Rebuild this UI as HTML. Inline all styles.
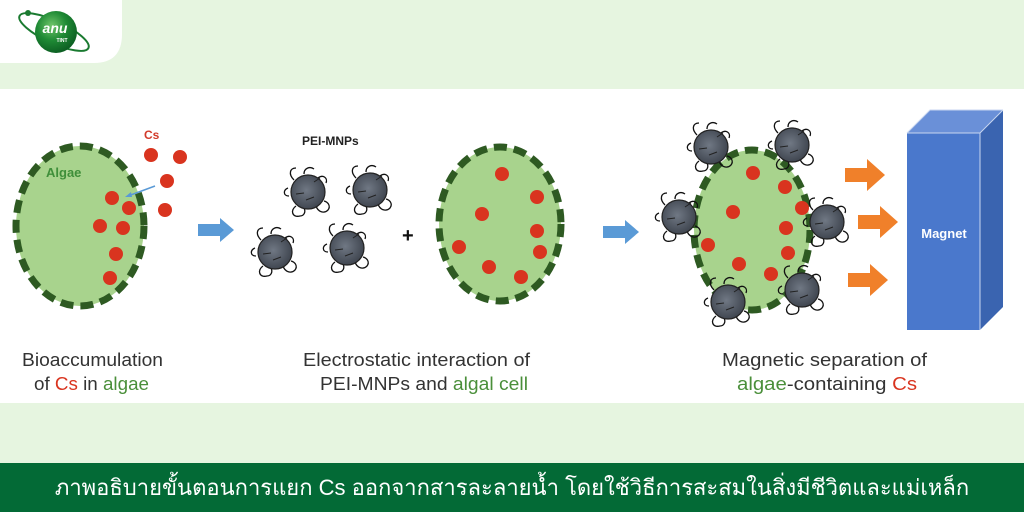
<!DOCTYPE html>
<html><head><meta charset="utf-8"><style>
html,body{margin:0;padding:0;width:1024px;height:512px;overflow:hidden;background:#e6f5e0}
svg{display:block}
</style></head><body>
<svg width="1024" height="512" viewBox="0 0 1024 512" xmlns="http://www.w3.org/2000/svg">
<defs>
<radialGradient id="pg" cx="0.45" cy="0.45" r="0.6"><stop offset="0" stop-color="#707884"/><stop offset="1" stop-color="#3c424c"/></radialGradient>
<radialGradient id="lg" cx="0.4" cy="0.35" r="0.7"><stop offset="0" stop-color="#6fc56a"/><stop offset="0.5" stop-color="#1f8a35"/><stop offset="1" stop-color="#0a5a20"/></radialGradient>
<g id="p">
<path d="M-14,-12 c-6,-6 -4,-12 2,-12 M-4,-18 c0,-6 6,-8 10,-5 M10,-14 c5,-4 10,0 8,5 M-19,4 c-6,0 -6,-6 -1,-8" fill="none" stroke="#111" stroke-width="1.3"/>
<path d="M-12,14 c-6,4 -4,12 4,10 c4,0 6,-4 4,-8 M8,14 c2,6 8,8 12,4 c3,-4 0,-8 -4,-9" fill="none" stroke="#111" stroke-width="1.3"/>
<circle r="17" fill="url(#pg)" stroke="#222" stroke-width="1.2"/>
<path d="M-12,2 l8,-1 M6,-10 l6,-4 M-2,8 l8,-3" stroke="#222" stroke-width="1"/>
</g>
<g id="oa"><rect x="0" y="-7" width="22" height="14" fill="#f0802a"/><path d="M22,-16 L40,0 L22,16Z" fill="#f0802a"/></g>
<g id="ba"><rect x="0" y="-6" width="22" height="12" fill="#5a9ad6"/><path d="M22,-12 L36,0 L22,12Z" fill="#5a9ad6"/></g>
</defs>
<path d="M0,0 H122 V34 Q122,63 94,63 H0Z" fill="#fff"/>
<ellipse cx="54" cy="32" rx="38" ry="11" transform="rotate(25 54 32)" fill="none" stroke="#1a7a30" stroke-width="2"/>
<circle cx="28" cy="13" r="3" fill="#1a7a30"/>
<circle cx="56" cy="32" r="21" fill="url(#lg)"/>
<text x="55" y="33" font-family="Liberation Sans, sans-serif" font-size="14" font-weight="bold" font-style="italic" fill="#fff" text-anchor="middle">anu</text>
<text x="62" y="42" font-family="Liberation Sans, sans-serif" font-size="5" font-weight="bold" fill="#fff" text-anchor="middle">TINT</text>
<rect x="0" y="89" width="1024" height="314" fill="#fff"/>
<ellipse cx="80" cy="226" rx="64" ry="80" fill="#a8d38d" stroke="#2e5a22" stroke-width="7" stroke-dasharray="13 7"/>
<text x="46" y="177" font-family="Liberation Sans, sans-serif" font-size="13" font-weight="bold" fill="#3f8f3a">Algae</text>
<text x="144" y="139" font-family="Liberation Sans, sans-serif" font-size="12" font-weight="bold" fill="#d23a2a">Cs</text>
<g fill="#d9341f">
<circle cx="151" cy="155" r="7"/><circle cx="180" cy="157" r="7"/><circle cx="167" cy="181" r="7"/><circle cx="165" cy="210" r="7"/>
<circle cx="112" cy="198" r="7"/><circle cx="129" cy="208" r="7"/><circle cx="100" cy="226" r="7"/><circle cx="123" cy="228" r="7"/><circle cx="116" cy="254" r="7"/><circle cx="110" cy="278" r="7"/>
</g>
<path d="M155,186 L128,196" stroke="#5a9ad6" stroke-width="1.5"/><path d="M125,197 l6,-5 l1,5z" fill="#5a9ad6"/>
<use href="#ba" x="198" y="230"/>
<text x="302" y="145" font-family="Liberation Sans, sans-serif" font-size="12" font-weight="bold" fill="#222">PEI-MNPs</text>
<use href="#p" x="308" y="192"/><use href="#p" x="370" y="190"/><use href="#p" x="275" y="252"/><use href="#p" x="347" y="248"/>
<text x="402" y="242" font-family="Liberation Sans, sans-serif" font-size="20" font-weight="bold" fill="#111">+</text>
<ellipse cx="500" cy="224" rx="61" ry="77" fill="#a8d38d" stroke="#2e5a22" stroke-width="7" stroke-dasharray="13 7"/>
<g fill="#d9341f">
<circle cx="502" cy="174" r="7"/><circle cx="537" cy="197" r="7"/><circle cx="482" cy="214" r="7"/><circle cx="537" cy="231" r="7"/><circle cx="459" cy="247" r="7"/><circle cx="540" cy="252" r="7"/><circle cx="489" cy="267" r="7"/><circle cx="521" cy="277" r="7"/>
</g>
<use href="#ba" x="603" y="232"/>
<ellipse cx="752" cy="230" rx="58" ry="80" fill="#a8d38d" stroke="#2e5a22" stroke-width="7" stroke-dasharray="13 7"/>
<g fill="#d9341f">
<circle cx="753" cy="173" r="7"/><circle cx="785" cy="187" r="7"/><circle cx="733" cy="212" r="7"/><circle cx="802" cy="208" r="7"/><circle cx="786" cy="228" r="7"/><circle cx="708" cy="245" r="7"/><circle cx="788" cy="253" r="7"/><circle cx="739" cy="264" r="7"/><circle cx="771" cy="274" r="7"/>
</g>
<use href="#p" x="711" y="147"/><use href="#p" x="792" y="145"/><use href="#p" x="679" y="217"/><use href="#p" x="827" y="222"/><use href="#p" x="728" y="302"/><use href="#p" x="802" y="290"/>
<use href="#oa" x="845" y="175"/><use href="#oa" x="858" y="222"/><use href="#oa" x="848" y="280"/>
<path d="M907,133 L930,110 L1003,110 L980,133Z" fill="#6a90d8"/>
<path d="M980,133 L1003,110 L1003,307 L980,330Z" fill="#3a64b0"/>
<rect x="907" y="133" width="73" height="197" fill="#4a78cc"/>
<path d="M907,133 L930,110 L1003,110 M980,133 L1003,110 M907,133 H980 V330" fill="none" stroke="#c8d6f0" stroke-width="1"/>
<text x="944" y="238" font-family="Liberation Sans, sans-serif" font-size="13" font-weight="bold" fill="#fff" text-anchor="middle">Magnet</text>
<g font-family="Liberation Sans Narrow, Liberation Sans, sans-serif" font-size="18" fill="#333">
<text x="22" y="366" textLength="141" lengthAdjust="spacingAndGlyphs">Bioaccumulation</text>
<text x="34" y="390" textLength="115" lengthAdjust="spacingAndGlyphs">of <tspan fill="#d9341f">Cs</tspan> in <tspan fill="#4a8f3a">algae</tspan></text>
<text x="303" y="366" textLength="227" lengthAdjust="spacingAndGlyphs">Electrostatic interaction of</text>
<text x="320" y="390" textLength="208" lengthAdjust="spacingAndGlyphs">PEI-MNPs and <tspan fill="#4a8f3a">algal cell</tspan></text>
<text x="722" y="366" textLength="205" lengthAdjust="spacingAndGlyphs">Magnetic separation of</text>
<text x="737" y="390" textLength="180" lengthAdjust="spacingAndGlyphs"><tspan fill="#4a8f3a">algae</tspan>-containing <tspan fill="#d9341f">Cs</tspan></text>
</g>
<rect x="0" y="463" width="1024" height="49" fill="#036a36"/>
<text x="512" y="495" font-family="Liberation Sans, sans-serif" font-size="22" fill="#fff" text-anchor="middle">ภาพอธิบายขั้นตอนการแยก Cs ออกจากสารละลายน้ำ โดยใช้วิธีการสะสมในสิ่งมีชีวิตและแม่เหล็ก</text>
</svg>
</body></html>
